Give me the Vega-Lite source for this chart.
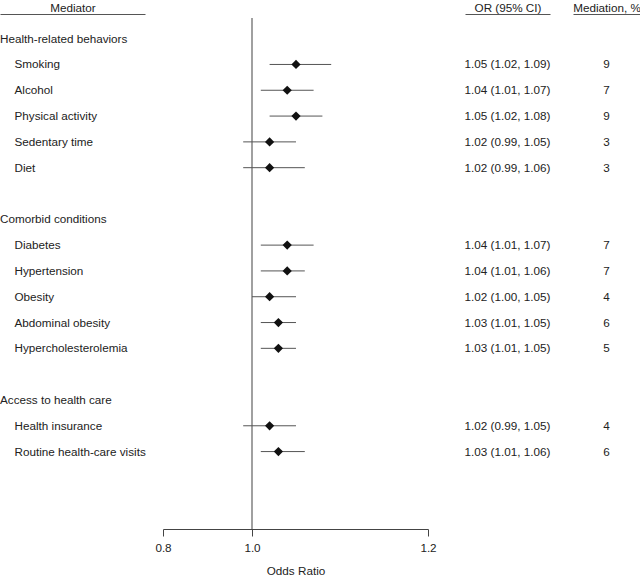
{
  "$schema": "https://vega.github.io/schema/vega-lite/v6.json",
  "padding": {"left": 0, "top": 2, "right": 0, "bottom": 0},
  "background": "white",
  "config": {
    "view": {"stroke": null},
    "font": "Liberation Sans",
    "text": {"font": "Liberation Sans", "fontSize": 11.7, "color": "#222222"},
    "axis": {"titleFont": "Liberation Sans", "labelFont": "Liberation Sans", "titleFontWeight": "normal", "titleFontSize": 11.7, "labelFontSize": 11.7, "titleColor": "#222222", "labelColor": "#222222", "domainColor": "#444444", "tickColor": "#444444", "grid": false}
  },
  "datasets": {
    "rows": [
      {"row": 1, "level": 0, "label": "Health-related behaviors"},
      {"row": 2, "level": 1, "label": "Smoking", "or": 1.05, "lo": 1.02, "hi": 1.09, "ci": "1.05 (1.02, 1.09)", "med": 9},
      {"row": 3, "level": 1, "label": "Alcohol", "or": 1.04, "lo": 1.01, "hi": 1.07, "ci": "1.04 (1.01, 1.07)", "med": 7},
      {"row": 4, "level": 1, "label": "Physical activity", "or": 1.05, "lo": 1.02, "hi": 1.08, "ci": "1.05 (1.02, 1.08)", "med": 9},
      {"row": 5, "level": 1, "label": "Sedentary time", "or": 1.02, "lo": 0.99, "hi": 1.05, "ci": "1.02 (0.99, 1.05)", "med": 3},
      {"row": 6, "level": 1, "label": "Diet", "or": 1.02, "lo": 0.99, "hi": 1.06, "ci": "1.02 (0.99, 1.06)", "med": 3},
      {"row": 8, "level": 0, "label": "Comorbid conditions"},
      {"row": 9, "level": 1, "label": "Diabetes", "or": 1.04, "lo": 1.01, "hi": 1.07, "ci": "1.04 (1.01, 1.07)", "med": 7},
      {"row": 10, "level": 1, "label": "Hypertension", "or": 1.04, "lo": 1.01, "hi": 1.06, "ci": "1.04 (1.01, 1.06)", "med": 7},
      {"row": 11, "level": 1, "label": "Obesity", "or": 1.02, "lo": 1.0, "hi": 1.05, "ci": "1.02 (1.00, 1.05)", "med": 4},
      {"row": 12, "level": 1, "label": "Abdominal obesity", "or": 1.03, "lo": 1.01, "hi": 1.05, "ci": "1.03 (1.01, 1.05)", "med": 6},
      {"row": 13, "level": 1, "label": "Hypercholesterolemia", "or": 1.03, "lo": 1.01, "hi": 1.05, "ci": "1.03 (1.01, 1.05)", "med": 5},
      {"row": 15, "level": 0, "label": "Access to health care"},
      {"row": 16, "level": 1, "label": "Health insurance", "or": 1.02, "lo": 0.99, "hi": 1.05, "ci": "1.02 (0.99, 1.05)", "med": 4},
      {"row": 17, "level": 1, "label": "Routine health-care visits", "or": 1.03, "lo": 1.01, "hi": 1.06, "ci": "1.03 (1.01, 1.06)", "med": 6}
    ]
  },
  "bounds": "flush",
  "spacing": 0,
  "hconcat": [
    {
      "width": 163,
      "height": 511,
      "data": {"name": "rows"},
      "mark": {"type": "text", "align": "left", "baseline": "middle"},
      "encoding": {
        "x": {"field": "level", "type": "quantitative", "scale": {"domain": [0, 10], "range": [0, 145], "nice": false, "zero": false},
              "axis": {"orient": "top", "title": "Mediator", "labels": false, "ticks": false, "domain": true, "offset": 4, "titlePadding": 1, "domainColor": "#555555"}},
        "y": {"field": "row", "type": "quantitative", "scale": {"domain": [0.2, 20], "reverse": true, "nice": false, "zero": false}, "axis": null},
        "text": {"field": "label"}
      }
    },
    {
      "width": 265,
      "height": 511,
      "data": {"name": "rows"},
      "transform": [{"filter": "datum.level == 1"}],
      "encoding": {
        "y": {"field": "row", "type": "quantitative", "scale": {"domain": [0.2, 20], "reverse": true, "nice": false, "zero": false}, "axis": null}
      },
      "layer": [
        {
          "mark": {"type": "rule", "color": "#a0a0a0", "strokeWidth": 2},
          "encoding": {
            "x": {"datum": 1, "type": "quantitative"},
            "y": null
          }
        },
        {
          "mark": {"type": "rule", "color": "#555555", "strokeWidth": 1},
          "encoding": {
            "x": {"field": "lo", "type": "quantitative"},
            "x2": {"field": "hi"}
          }
        },
        {
          "mark": {"type": "point", "shape": "diamond", "filled": true, "color": "#111111", "opacity": 1, "size": 85},
          "encoding": {
            "x": {"field": "or", "type": "quantitative",
                  "scale": {"domain": [0.8, 0.99, 1.2], "range": [0, 80.2, 265], "nice": false, "zero": false},
                  "axis": {"values": [0.8, 1.0, 1.2], "format": ".1f", "title": "Odds Ratio", "labelFlush": false, "tickSize": 7, "labelPadding": 6, "titlePadding": 12, "domainColor": "#444444"}}
          }
        }
      ]
    },
    {
      "width": 122,
      "height": 511,
      "data": {"name": "rows"},
      "transform": [{"filter": "datum.level == 1"}],
      "mark": {"type": "text", "align": "center", "baseline": "middle"},
      "encoding": {
        "x": {"datum": "OR (95% CI)", "type": "nominal", "scale": {"type": "point", "range": [37, 122]},
              "axis": {"orient": "top", "title": "OR (95% CI)", "labels": false, "ticks": false, "domain": true, "offset": 4, "titlePadding": 1, "domainColor": "#555555"}},
        "y": {"field": "row", "type": "quantitative", "scale": {"domain": [0.2, 20], "reverse": true, "nice": false, "zero": false}, "axis": null},
        "text": {"field": "ci"}
      }
    },
    {
      "width": 90,
      "height": 511,
      "data": {"name": "rows"},
      "transform": [{"filter": "datum.level == 1"}],
      "mark": {"type": "text", "align": "center", "baseline": "middle"},
      "encoding": {
        "x": {"datum": "Mediation, %", "type": "nominal", "scale": {"type": "point", "range": [23, 90]},
              "axis": {"orient": "top", "title": "Mediation, %", "labels": false, "ticks": false, "domain": true, "offset": 4, "titlePadding": 1, "domainColor": "#555555"}},
        "y": {"field": "row", "type": "quantitative", "scale": {"domain": [0.2, 20], "reverse": true, "nice": false, "zero": false}, "axis": null},
        "text": {"field": "med"}
      }
    }
  ]
}
